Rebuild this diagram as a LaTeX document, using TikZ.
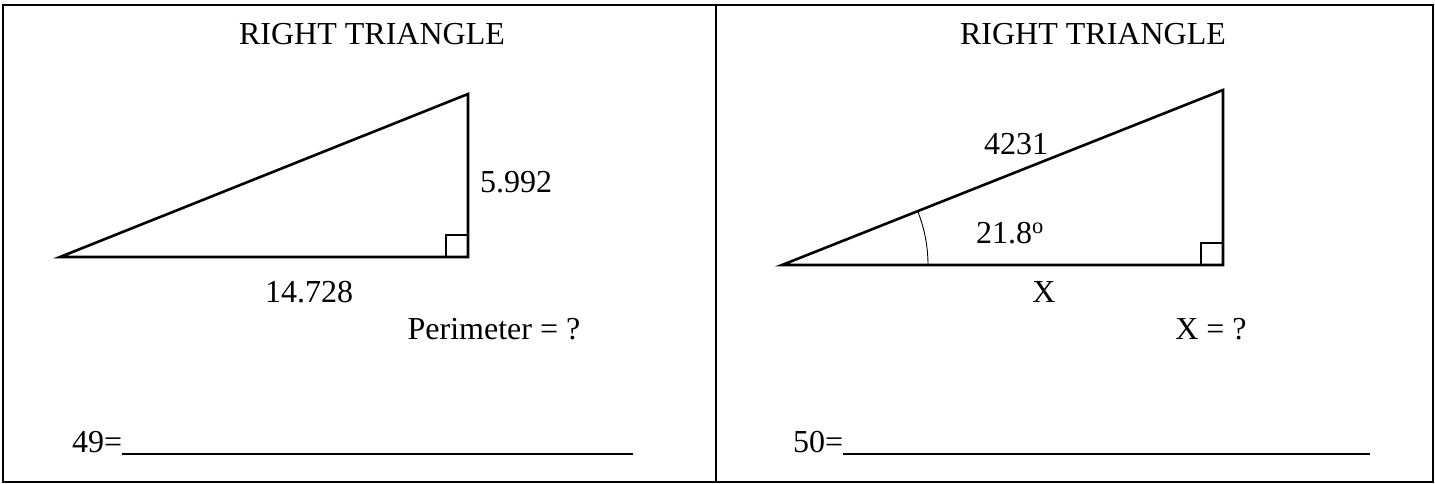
\documentclass[tikz,border=0pt]{standalone}
\usepackage{fontspec}
\setmainfont{Liberation Serif}

\tikzset{
  lbl/.style={font=\fontsize{32}{38}\selectfont,anchor=base,inner sep=0pt},
  leg/.style={line width=2.6pt,line join=miter},
  frame/.style={line width=1.2pt},
  rule/.style={line width=1.4pt},
}

\begin{document}
\begin{tikzpicture}[x=1pt,y=-1pt]
\useasboundingbox (0,0) rectangle (1435,484);
\draw[frame] (3,5) rectangle (1433,482);
\draw[frame] (716,5) -- (716,482);
% left card
\node[lbl] (t49) at (372,45) {RIGHT TRIANGLE};
\coordinate (A1) at (60,257);
\coordinate (B1) at (468,257);
\coordinate (C1) at (468,94);
\draw[leg] (A1) -- (B1) -- (C1) -- cycle;
\draw[leg] (B1) rectangle ++(-22,-22);
\node[lbl] (h49) at (516,193) {5.992};
\node[lbl] (b49) at (309,302) {14.728};
\node[lbl] (q49) at (494,339) {Perimeter = ?};
\node[lbl,anchor=base west] (n49) at (72,452) {49=};
\coordinate (u49) at (633,454);
\draw[rule] (n49.base east |- u49) -- (u49);
% right card
\node[lbl] (t50) at (1093,45) {RIGHT TRIANGLE};
\coordinate (A2) at (782,265);
\coordinate (B2) at (1223,265);
\coordinate (C2) at (1223,90);
\draw[leg] (A2) -- (B2) -- (C2) -- cycle;
\draw[leg] (B2) rectangle ++(-22,-22);
\draw[line width=0.9pt] (A2) ++(146,0) arc[start angle=0,end angle=-21.6,radius=146];
\node[lbl] (c50) at (1016,155) {4231};
\node[lbl] (a50) at (1010,243) {21.8\textsuperscript{o}};
\node[lbl] (b50) at (1044,302) {X};
\node[lbl] (q50) at (1211,339) {X = ?};
\node[lbl,anchor=base west] (n50) at (793,452) {50=};
\coordinate (u50) at (1370,454);
\draw[rule] (n50.base east |- u50) -- (u50);
\end{tikzpicture}
\end{document}
